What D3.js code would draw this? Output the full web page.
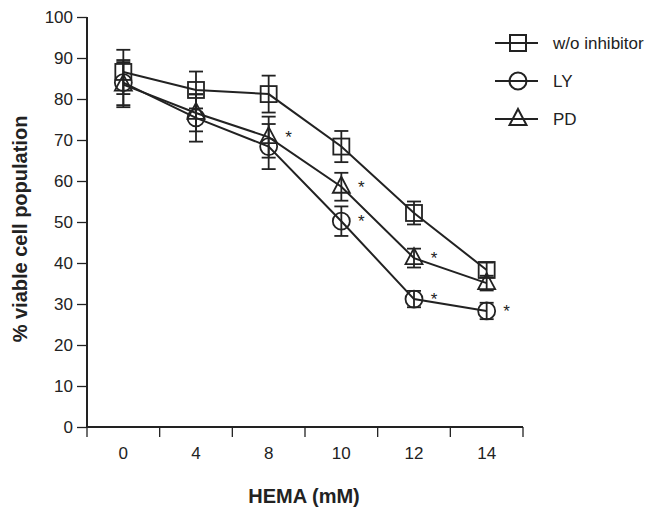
<!DOCTYPE html>
<html><head><meta charset="utf-8">
<script src="https://cdn.jsdelivr.net/npm/d3@7"></script>
<style>body{margin:0;background:#fff}svg{display:block}text{font-family:"Liberation Sans",Arial,sans-serif;fill:#222}</style>
</head><body>
<script>
const categories = ["0","4","8","10","12","14"];
const woValues = [86.6, 82.2, 81.2, 68.4, 52.2, 38.3];
const woErrors = [5.4, 4.5, 4.5, 3.8, 2.8, 1.8];
const lyValues = [84.0, 75.4, 68.4, 50.2, 31.2, 28.3];
const lyErrors = [5.5, 5.8, 5.5, 3.6, 2.0, 2.0];
const pdValues = [83.5, 76.6, 70.7, 58.6, 41.2, 35.1];
const pdErrors = [5.5, 4.5, 5.0, 3.4, 2.3, 1.8];
const lySig = [false, false, false, true, true, true];
const pdSig = [false, false, true, true, true, false];
const yTicks = [0,10,20,30,40,50,60,70,80,90,100];
const seriesNames = ["w/o inhibitor","LY","PD"];

const W=645,H=507;
const svg=d3.select("body").append("svg").attr("width",W).attr("height",H);
const x=d3.scaleBand().domain(categories).range([87,523]);
const y=d3.scaleLinear().domain([0,100]).range([427,17]);
const ink="#222";

// y axis
const ya=svg.append("g").attr("transform","translate(87,0)")
  .call(d3.axisLeft(y).tickValues(yTicks).tickSize(10).tickPadding(4));
ya.selectAll("text").style("font-size","17px").attr("fill",ink);
ya.selectAll("line,path").attr("stroke",ink).attr("stroke-width",1.3);
ya.select("path").attr("d","M0,427V17").attr("stroke-width",2);

// x axis
const xa=svg.append("g").attr("transform","translate(0,427)");
xa.append("line").attr("x1",87).attr("x2",523).attr("stroke",ink).attr("stroke-width",2);
const edges=categories.map(c=>x(c)).concat([x.range()[1]]);
xa.selectAll(".tk").data(edges).join("line").attr("x1",d=>d).attr("x2",d=>d).attr("y1",0).attr("y2",10).attr("stroke",ink).attr("stroke-width",1.3);
xa.selectAll(".lb").data(categories).join("text").attr("x",d=>x(d)+x.bandwidth()/2).attr("y",32)
  .attr("text-anchor","middle").style("font-size","17px").text(d=>d);

svg.append("text").attr("x",304).attr("y",503).attr("text-anchor","middle")
  .style("font-size","20px").style("font-weight","bold").text("HEMA (mM)");
svg.append("text").attr("transform","translate(27,229) rotate(-90)").attr("text-anchor","middle")
  .style("font-size","20px").style("font-weight","bold").text("% viable cell population");

const cx=c=>x(c)+x.bandwidth()/2;
const series=[
  {name:seriesNames[0],v:woValues,e:woErrors,sym:"square",sig:null},
  {name:seriesNames[1],v:lyValues,e:lyErrors,sym:"circle",sig:lySig},
  {name:seriesNames[2],v:pdValues,e:pdErrors,sym:"triangle",sig:pdSig}
];
function marker(g,sym,px,py){
  if(sym==="square") g.append("rect").attr("x",px-8).attr("y",py-8).attr("width",16).attr("height",16);
  else if(sym==="circle") g.append("circle").attr("cx",px).attr("cy",py).attr("r",8.5);
  else g.append("path").attr("d",`M${px},${py-10}L${px+8.5},${py+6}L${px-8.5},${py+6}Z`);
}
const line=d3.line().x((d,i)=>cx(categories[i])).y(d=>y(d));
series.forEach(s=>{
  svg.append("path").attr("d",line(s.v)).attr("fill","none").attr("stroke",ink).attr("stroke-width",2);
});
series.forEach(s=>{
  const g=svg.append("g").attr("stroke",ink).attr("stroke-width",1.8).attr("fill","none");
  s.v.forEach((v,i)=>{
    const px=cx(categories[i]);
    const t=y(v+s.e[i]), b=y(v-s.e[i]);
    g.append("line").attr("x1",px).attr("x2",px).attr("y1",t).attr("y2",b);
    g.append("line").attr("x1",px-7).attr("x2",px+7).attr("y1",t).attr("y2",t);
    g.append("line").attr("x1",px-7).attr("x2",px+7).attr("y1",b).attr("y2",b);
    marker(g,s.sym,px,y(v));
    if(s.sig&&s.sig[i]) svg.append("text").attr("x",px+20).attr("y",y(v)+6).attr("text-anchor","middle").style("font-size","17px").text("*");
  });
});

// legend
const lg=svg.append("g");
series.forEach((s,i)=>{
  const ly=43+i*38;
  const g=lg.append("g").attr("stroke",ink).attr("stroke-width",2).attr("fill","none");
  g.append("line").attr("x1",495).attr("x2",538).attr("y1",ly).attr("y2",ly);
  marker(g,s.sym,518,ly);
  lg.append("text").attr("x",553).attr("y",ly+6).style("font-size","17px").text(s.name);
});
</script>
</body></html>
